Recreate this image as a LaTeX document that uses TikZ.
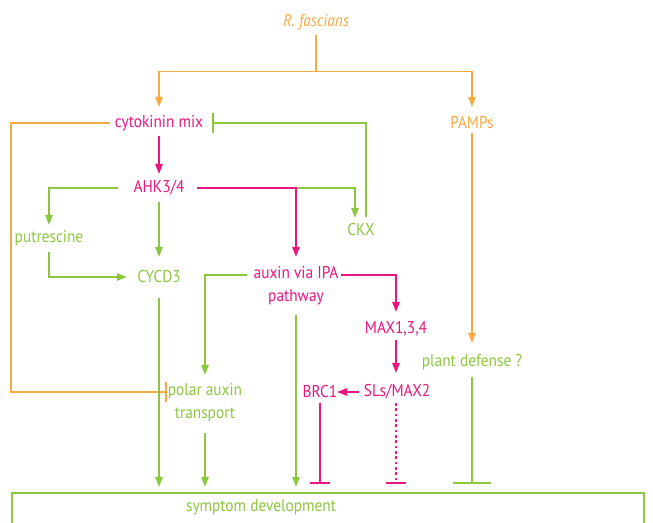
\documentclass[tikz,border=0pt]{standalone}
\usepackage{fontspec}
\setmainfont[FakeStretch=0.9]{PT Sans}
\usetikzlibrary{arrows.meta,calc}
\definecolor{orng}{RGB}{248,169,64}
\definecolor{pnk}{RGB}{232,22,128}
\definecolor{grn}{RGB}{141,198,63}
\tikzset{
  lbl/.style={inner sep=0pt, font=\fontsize{12.8}{17.25}\selectfont, align=center},
  ln/.style={line width=1.3pt},
  arr/.style={ln, -{Triangle[length=7.5pt,width=5.5pt]}},
  inh/.style={ln, -{Bar[width=15pt]}},
  winh/.style={ln, -{Bar[width=28.5pt]}},
}
\begin{document}
\begin{tikzpicture}[x=0.75pt,y=-0.75pt]
\useasboundingbox (0,0) rectangle (653,523);
\clip (0,0) rectangle (653,523);
% nodes
\node[lbl,text=orng,font=\fontsize{12.8}{15}\selectfont\itshape] (rf) at (316,22) {R. fascians};
\node[lbl,text=pnk] (cyt) at (159,123) {cytokinin mix};
\node[lbl,text=orng] (pamps) at (472,123) {PAMPs};
\node[lbl,text=pnk] (ahk) at (159,188) {AHK3/4};
\node[lbl,text=grn] (put) at (49,238) {putrescine};
\node[lbl,text=grn] (cycd) at (159,277) {CYCD3};
\node[lbl,text=grn] (ckx) at (361,230) {CKX};
\node[lbl,text=pnk] (aux) at (296,286) {auxin via IPA\\pathway};
\node[lbl,text=grn] (pat) at (205,403) {polar auxin\\transport};
\node[lbl,text=pnk] (max) at (396,329) {MAX1,3,4};
\node[lbl,text=pnk] (sls) at (397,392) {SLs/MAX2};
\node[lbl,text=pnk] (brc) at (320,392) {BRC1};
\node[lbl,text=grn] (pd) at (472,362) {plant defense ?};
\node[draw=grn, line width=1.3pt, minimum width=632*0.75pt, minimum height=60*0.75pt, anchor=north west, inner sep=0pt] (box) at (11,492) {};
\node[lbl,text=grn] (sym) at (261,507) {symptom development};
% orange from R. fascians
\coordinate (split) at (316,71.5);
\draw[ln,orng] ($(rf)+(0,13)$) -- (split);
\draw[arr,orng] (split) -| ($(cyt)+(0,-16)$);
\draw[arr,orng] (split) -| ($(pamps)+(0,-16)$);
\draw[inh,orng] ($(cyt)+(-49,0)$) -| (11,392) -- ($(pat)+(-38,-11)$);
\draw[arr,orng] ($(pamps)+(0,10)$) -- ($(pd)+(0,-19)$);
% cytokinin
\draw[arr,pnk] ($(cyt)+(0,13)$) -- ($(ahk)+(0,-14)$);
\draw[inh,grn] ($(ckx)+(5,-13)$) |- ($(cyt)+(53,0)$);
% AHK
\draw[arr,grn] ($(ahk)+(-41,0)$) -| ($(put)+(0,-13)$);
\draw[arr,grn] ($(put)+(0,14)$) |- ($(cycd)+(-32,0)$);
\draw[arr,grn] ($(ahk)+(0,14)$) -- ($(cycd)+(0,-20)$);
\draw[arr,grn] ($(ahk)+(38,0)$) -| ($(ckx)+(-6,-12)$);
\draw[arr,pnk] ($(ahk)+(38,0)$) -| ($(aux)+(0,-29)$);
% auxin
\draw[arr,grn] ($(aux)+(-49,-11)$) -| ($(pat)+(0,-28)$);
\draw[arr,pnk] ($(aux)+(45,-11)$) -| ($(max)+(0,-17)$);
\draw[arr,pnk] ($(max)+(0,11)$) -- ($(sls)+(-1,-19)$);
\draw[arr,pnk] ($(sls)+(-38,0)$) -- ($(brc)+(17,0)$);
% to symptom box
\draw[arr,grn,shorten >=5*0.75pt] ($(cycd)+(0,21)$) -- (cycd |- box.north);
\draw[arr,grn,shorten >=5*0.75pt] ($(pat)+(0,30)$) -- (pat |- box.north);
\draw[arr,grn,shorten >=5*0.75pt] ($(aux)+(0,29)$) -- (aux |- box.north);
\draw[inh,pnk,shorten >=8*0.75pt] ($(brc)+(0,11)$) -- (brc |- box.north);
\draw[ln,pnk,dash pattern=on 2pt off 2pt,-{Bar[width=15pt]},shorten >=8*0.75pt] ($(sls)+(-1,11)$) -- ($(sls |- box.north)+(-1,0)$);
\draw[winh,grn,shorten >=8*0.75pt] ($(pd)+(0,15)$) -- (pd |- box.north);
\end{tikzpicture}
\end{document}
